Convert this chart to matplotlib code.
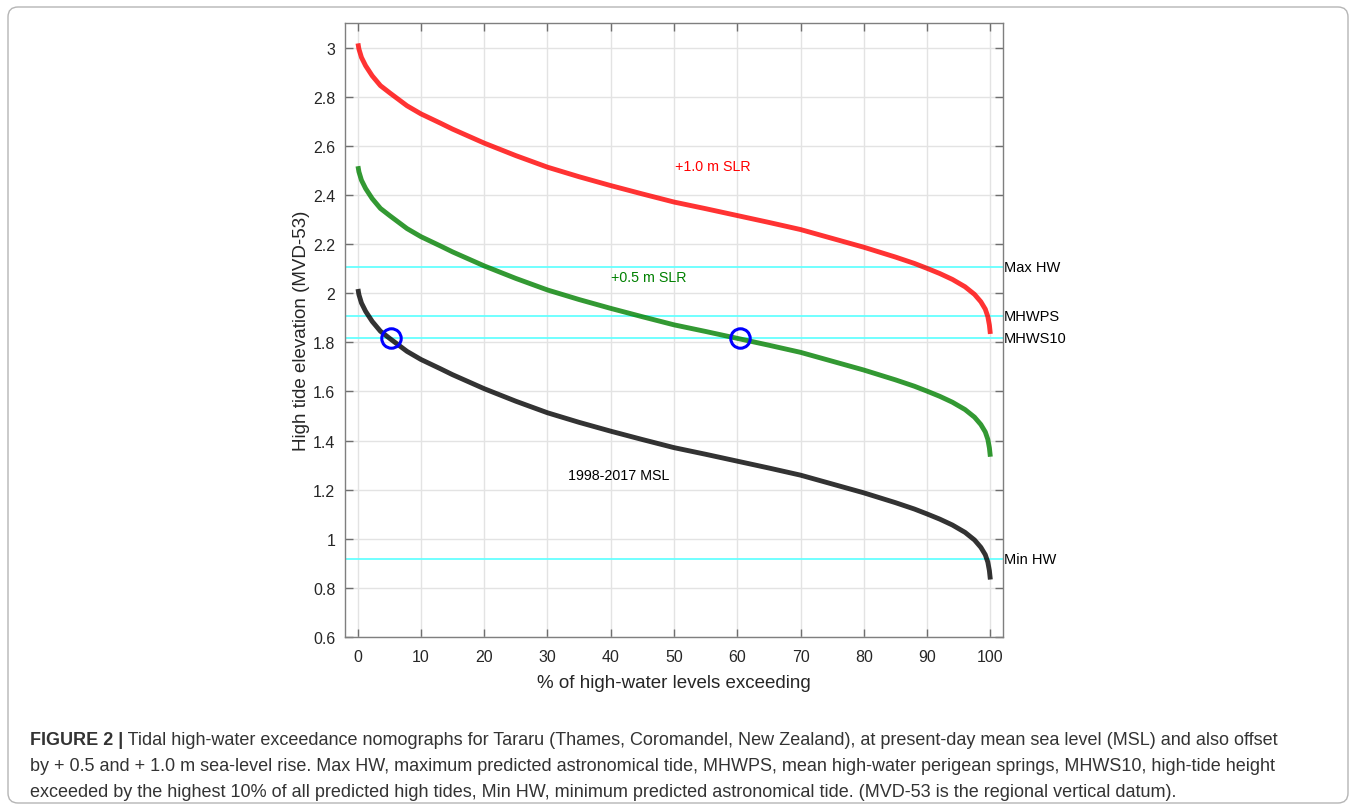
import numpy as np
import matplotlib
matplotlib.use("Agg")
import matplotlib.pyplot as plt
import matplotlib.patches as mpatches
from matplotlib.transforms import IdentityTransform

# ============ Data ============
pct = [0.05, 0.2, 0.6, 1.26, 2.3, 3.6, 5.1, 7.8, 10, 13.1, 15, 20, 25, 30, 35,
       40, 45, 50, 55, 60, 65, 70, 75, 80, 85, 88, 90, 92, 94, 96, 97.5, 98.5,
       99.2, 99.6, 99.85, 100]
msl = [2.017, 1.994, 1.960, 1.926, 1.885, 1.845, 1.815, 1.763, 1.730, 1.692,
       1.668, 1.611, 1.560, 1.513, 1.474, 1.438, 1.404, 1.371, 1.344, 1.316,
       1.288, 1.259, 1.223, 1.187, 1.147, 1.121, 1.101, 1.080, 1.056, 1.026,
       0.995, 0.965, 0.935, 0.905, 0.870, 0.834]
slr_offsets = [0.0, 0.5, 1.0]
series_names = ['1998-2017 MSL', '+0.5 m SLR', '+1.0 m SLR']
series_colors = ['black', 'green', 'red']

ref_names = ['Max HW', 'MHWPS', 'MHWS10', 'Min HW']
ref_levels = [2.105, 1.905, 1.816, 0.917]

circle_x = [5.3, 60.5]
circle_y = [1.816, 1.816]

caption_bold = 'FIGURE 2 |'
caption = [
    ' Tidal high-water exceedance nomographs for Tararu (Thames, Coromandel, New Zealand), at present-day mean sea level (MSL) and also offset',
    'by + 0.5 and + 1.0 m sea-level rise. Max HW, maximum predicted astronomical tide, MHWPS, mean high-water perigean springs, MHWS10, high-tide height',
    'exceeded by the highest 10% of all predicted high tides, Min HW, minimum predicted astronomical tide. (MVD-53 is the regional vertical datum).',
]

plt.rcParams['font.family'] = ['Liberation Sans', 'DejaVu Sans']

fig = plt.figure(figsize=(13.56, 8.12), dpi=100)
ax = fig.add_axes([345 / 1356, 1 - 638 / 812, 658 / 1356, 614 / 812])

# reference levels
for lev in ref_levels:
    ax.axhline(lev, color='#66ffff', lw=1.3, zorder=1)

# exceedance curves
pct_a = np.array(pct)
msl_a = np.array(msl)
for off, c in zip(slr_offsets, series_colors):
    ax.plot(pct_a, msl_a + off, color=c, lw=3.5, alpha=0.8,
            solid_capstyle='butt', solid_joinstyle='round', zorder=3)

ax.plot(circle_x, circle_y, 'o', ms=14, mfc='none', mec='blue', mew=2.2, zorder=4)

# curve labels
ax.text(33.3, 1.26, series_names[0], color='black', fontsize=10.3, va='center')
ax.text(40.1, 2.065, series_names[1], color='green', fontsize=10.3, va='center')
ax.text(50.2, 2.517, series_names[2], color='red', fontsize=10.3, va='center')

for name, lev in zip(ref_names, ref_levels):
    ax.text(102.1, lev, name, fontsize=10.5, va='center', ha='left', clip_on=False)

ax.set_xlim(-2, 102)
ax.set_ylim(0.6, 3.1)
ax.set_xticks(np.arange(0, 101, 10))
ax.set_yticks(np.arange(0.6, 3.01, 0.2))
ax.set_yticklabels(['0.6', '0.8', '1', '1.2', '1.4', '1.6', '1.8', '2',
                    '2.2', '2.4', '2.6', '2.8', '3'])
ax.grid(True, color='#e3e3e3', lw=1)
ax.set_axisbelow(True)
ax.tick_params(direction='in', top=True, right=True, length=6, width=1,
               color='#6f6f6f', labelsize=11.5, labelcolor='#262626')
ax.tick_params(axis='x', pad=9)
ax.tick_params(axis='y', pad=7)
for s in ax.spines.values():
    s.set_color('#7f7f7f')
    s.set_linewidth(1)
ax.set_xlabel('% of high-water levels exceeding', fontsize=13.5, color='#262626', labelpad=7)
ax.set_ylabel('High tide elevation (MVD-53)', fontsize=13.5, color='#262626', labelpad=2)

# outer frame
frame = mpatches.FancyBboxPatch((8, 8), 1340, 796,
                                boxstyle='round,pad=0,rounding_size=10',
                                transform=IdentityTransform(), fill=False,
                                edgecolor='#b5b5b5', lw=1)
fig.add_artist(frame)

# caption
cap_font = ['Liberation Sans', 'DejaVu Sans']
fig.canvas.draw()
r = fig.canvas.get_renderer()
t0 = fig.text(30, 812 - 741, caption_bold, transform=IdentityTransform(),
              fontsize=13, fontweight='bold', family=cap_font, va='center',
              color='#333333')
bb = t0.get_window_extent(r)
fig.text(bb.x1, 812 - 741, caption[0], transform=IdentityTransform(),
         fontsize=13, family=cap_font, va='center', color='#333333')
fig.text(30, 812 - 767, caption[1], transform=IdentityTransform(),
         fontsize=13, family=cap_font, va='center', color='#333333')
fig.text(30, 812 - 793, caption[2], transform=IdentityTransform(),
         fontsize=13, family=cap_font, va='center', color='#333333')

fig.savefig('out.png', dpi=100)
